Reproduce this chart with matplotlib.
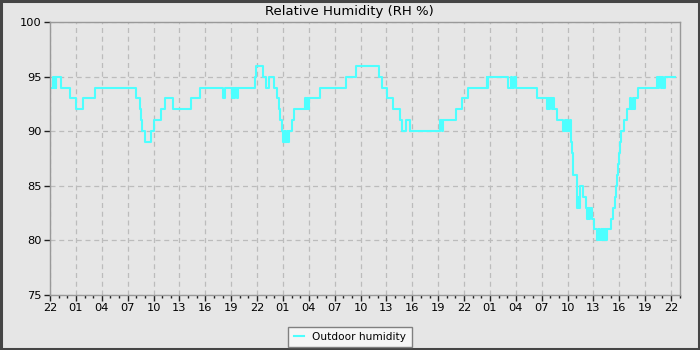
"""Relative humidity trend, 3 days of outdoor readings"""
import matplotlib
matplotlib.use('Agg')
import matplotlib.pyplot as plt
from matplotlib.patches import Rectangle
from matplotlib.ticker import MultipleLocator, FuncFormatter

# hours since 22:00 on day one, and reading (RH %) that holds from that hour on
hours = [0.23, 0.35, 0.45, 0.55, 0.65, 0.73, 1.24, 2.28, 3.06, 3.83, 5.18,
         10.01, 10.40, 10.52, 10.70, 10.98, 11.75, 12.02, 12.90, 13.29, 14.26,
         16.31, 17.36, 20.03, 20.29, 21.07, 21.2, 21.35, 21.5, 21.65, 21.8,
         23.77, 23.88, 24.66, 25.04, 25.42, 25.97, 26.36, 26.55, 26.67, 26.84,
         27.03, 27.2, 27.3, 27.45, 27.55, 27.7, 27.80, 28.08, 28.29,
         29.57, 29.7, 29.85, 29.95, 30.07, 31.30, 34.29, 35.48,
         38.18, 38.46, 39.11, 39.73, 40.58, 40.85, 41.28, 41.74,
         45.22, 45.4, 45.6, 47.07, 47.73, 48.50, 50.63, 50.69, 50.76,
         53.14, 53.4, 53.6, 53.85, 54.03, 56.43, 57.59, 57.7, 57.85, 58.0,
         58.15, 58.3, 58.47, 58.75, 59.51, 59.65, 59.8, 59.95, 60.1, 60.25,
         60.37, 60.45, 60.55, 60.68, 61.07, 61.15, 61.25, 61.35, 61.45,
         61.84, 62.11, 62.22, 62.35, 62.5, 62.65, 62.80, 63.07,
         63.46, 63.6, 63.7, 63.85, 63.95, 64.1, 64.2, 64.35, 64.45, 64.54,
         65.00, 65.31, 65.50, 65.62, 65.78, 65.90, 66.00, 66.12, 66.2,
         66.55, 66.86, 67.25, 67.4, 67.55, 67.7, 67.83, 68.17,
         70.34, 70.5, 70.65, 70.8, 70.95, 71.1, 71.30, 72.46]
rh = [94, 95, 94, 95, 94, 95, 94, 93, 92, 93, 94,
      93, 92, 91, 90, 89, 90, 91, 92, 93, 92,
      93, 94, 93, 94, 93, 94, 93, 94, 93, 94,
      95, 96, 95, 94, 95, 94, 93, 92, 91, 90,
      89, 90, 89, 90, 89, 90, 90, 91, 92,
      93, 92, 93, 92, 93, 94, 95, 96,
      95, 94, 93, 92, 91, 90, 91, 90,
      91, 90, 91, 92, 93, 94, 95, 94, 95,
      94, 95, 94, 95, 94, 93, 92, 93, 92, 93,
      92, 93, 92, 91, 90, 91, 90, 91, 90, 91,
      90, 89, 88, 86, 84, 83, 84, 83, 85,
      84, 83, 82, 83, 82, 83, 82, 81,
      80, 81, 80, 81, 80, 81, 80, 81, 80, 81,
      82, 83, 84, 85, 86, 87, 88, 89, 90,
      91, 92, 93, 92, 93, 92, 93, 94,
      95, 94, 95, 94, 95, 94, 95, 95]

start_hour = 22
y_ticks = [75, 80, 85, 90, 95, 100]

bg = '#e6e6e6'
line_col = '#4dffff'


def hour_label(h, pos):
    return '%02d' % ((start_hour + int(round(h))) % 24)


def main():
    fig = plt.figure(figsize=(7, 3.5), dpi=100)
    fig.patch.set_facecolor(bg)
    fig.patches.append(Rectangle((0.0015, 0.003), 0.997, 0.994, transform=fig.transFigure,
                                 fill=False, edgecolor='#454545', linewidth=2.2))

    ax = fig.add_axes([50 / 700, 1 - 295 / 350, 630 / 700, 273 / 350])
    ax.set_facecolor(bg)
    ax.step(hours, rh, where='post', color=line_col, linewidth=1.5, label='Outdoor humidity')

    ax.set_xlim(0, 73.04)
    ax.set_ylim(75, 100)
    ax.set_yticks(y_ticks)
    ax.xaxis.set_major_locator(MultipleLocator(3))
    ax.xaxis.set_minor_locator(MultipleLocator(1))
    ax.xaxis.set_major_formatter(FuncFormatter(hour_label))

    ax.grid(True, which='major', color='#bcbcbc', linestyle=(0, (4, 3)), linewidth=0.9)
    ax.set_axisbelow(True)
    for s in ax.spines.values():
        s.set_color('#999999')
        s.set_linewidth(1.0)
    ax.tick_params(axis='both', which='major', labelsize=8.2, length=4, width=1,
                   color='#222222', pad=2)
    ax.tick_params(axis='x', which='minor', length=2.5, width=1, color='#222222')

    fig.text(0.499, 1 - 11 / 350, 'Relative Humidity (RH %)', ha='center', va='center',
             fontsize=9.5)

    leg = fig.legend(loc='lower center', bbox_to_anchor=(0.5, -0.007), fontsize=7.6,
                     handlelength=1.0, frameon=True, fancybox=False, borderpad=0.5,
                     handletextpad=0.8)
    leg.get_frame().set_facecolor('#f5f5f5')
    leg.get_frame().set_edgecolor('#808080')
    leg.get_frame().set_alpha(1)

    fig.savefig('out.png', dpi=100, facecolor=bg)


if __name__ == '__main__':
    main()
